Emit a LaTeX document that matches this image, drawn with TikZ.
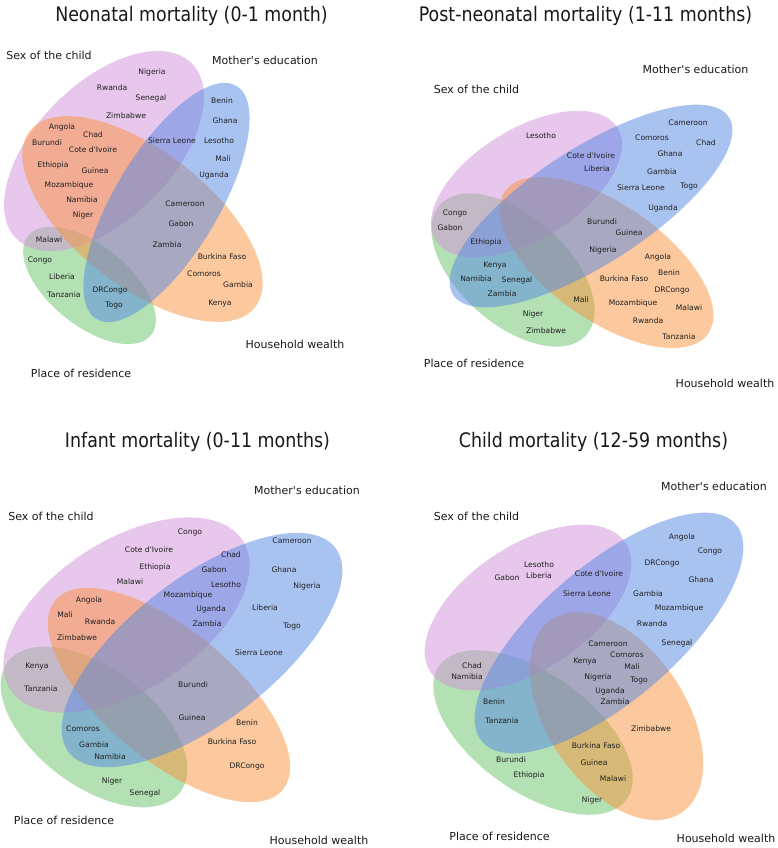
\documentclass[tikz,border=0pt]{standalone}
\usepackage{fontspec}
\setmainfont{DejaVu Sans}
\newfontfamily\titlefont{DejaVu Sans}[FakeStretch=0.87]
\definecolor{vpink}{RGB}{209,145,217}
\definecolor{vblue}{RGB}{85,137,229}
\definecolor{vorange}{RGB}{251,147,61}
\definecolor{vgreen}{RGB}{105,197,105}
\tikzset{
  cty/.style={font=\fontsize{7.6}{9}\selectfont, inner sep=0pt, text height=5.5pt, text depth=1.5pt, text=black!88},
  cat/.style={font=\fontsize{11}{13}\selectfont, inner sep=0pt, text height=8pt, text depth=2.5pt, text=black!90},
  ttl/.style={font=\titlefont\fontsize{20}{24}\selectfont, inner sep=0pt, anchor=base, text=black!90},
  pinkset/.style={fill=vpink, fill opacity=0.5},
  blueset/.style={fill=vblue, fill opacity=0.5},
  orangeset/.style={fill=vorange, fill opacity=0.5},
  greenset/.style={fill=vgreen, fill opacity=0.5}
}
% #1 style, #2 angle, #3 cx, #4 cy, #5 a, #6 b
\newcommand\vennell[6]{\fill[#1, rotate around={#2:(#3,#4)}] (#3,#4) ellipse [x radius=#5pt, y radius=#6pt];}
\newcommand\cty[4]{\node[cty] (#1) at (#2,#3) {#4};}
\newcommand\apos{\textquotesingle}
\begin{document}
\begin{tikzpicture}[x=1pt,y=-1pt]
\useasboundingbox (0,0) rectangle (778,848);
\fill[white] (0,0) rectangle (778,848);

% ---------- Diagram 1: Neonatal ----------
\vennell{greenset}{-39}{89.5}{285.5}{79}{40}
\vennell{pinkset}{45}{104}{151}{124}{68}
\vennell{orangeset}{-38}{142.5}{219}{143}{67.5}
\vennell{blueset}{59}{166.5}{202.5}{136}{52}

\node[ttl] (t1) at (191.5,22) {Neonatal mortality (0-1 month)};
\node[cat] (d1sex) at (49,57) {Sex of the child};
\node[cat] (d1edu) at (265,62) {Mother\apos s education};
\node[cat] (d1wealth) at (295,346) {Household wealth};
\node[cat] (d1res) at (81,375) {Place of residence};

\cty{d1nigeria}{152}{73}{Nigeria}
\cty{d1rwanda}{112}{89}{Rwanda}
\cty{d1senegal}{151}{99}{Senegal}
\cty{d1zimbabwe}{126}{116}{Zimbabwe}
\cty{d1benin}{222}{102}{Benin}
\cty{d1ghana}{225}{122}{Ghana}
\cty{d1lesotho}{219}{141}{Lesotho}
\cty{d1mali}{223}{159}{Mali}
\cty{d1uganda}{214}{175}{Uganda}
\cty{d1sierra}{172}{141}{Sierra Leone}
\cty{d1angola}{62}{128}{Angola}
\cty{d1chad}{93}{136}{Chad}
\cty{d1burundi}{47}{144}{Burundi}
\cty{d1cote}{93}{151}{Cote d\apos Ivoire}
\cty{d1ethiopia}{53}{165}{Ethiopia}
\cty{d1guinea}{95}{171}{Guinea}
\cty{d1mozambique}{69}{185}{Mozambique}
\cty{d1namibia}{82}{200}{Namibia}
\cty{d1niger}{83}{215}{Niger}
\cty{d1cameroon}{185}{204}{Cameroon}
\cty{d1gabon}{181}{224}{Gabon}
\cty{d1zambia}{167}{245}{Zambia}
\cty{d1malawi}{49}{240}{Malawi}
\cty{d1congo}{40}{260}{Congo}
\cty{d1liberia}{62}{277}{Liberia}
\cty{d1tanzania}{64}{295}{Tanzania}
\cty{d1drcongo}{110}{290}{DRCongo}
\cty{d1togo}{114}{305}{Togo}
\cty{d1burkina}{222}{257}{Burkina Faso}
\cty{d1comoros}{204}{274}{Comoros}
\cty{d1gambia}{238}{285}{Gambia}
\cty{d1kenya}{220}{303}{Kenya}

% ---------- Diagram 2: Post-neonatal ----------
\vennell{greenset}{-41.6}{513}{270}{98}{54}
\vennell{pinkset}{31.7}{526.5}{184}{107}{55}
\vennell{orangeset}{-35}{606.5}{262.5}{124}{58}
\vennell{blueset}{32.8}{591}{206}{164}{58}

\node[ttl] (t2) at (585.5,22) {Post-neonatal mortality (1-11 months)};
\node[cat] (d2edu) at (695.5,71) {Mother\apos s education};
\node[cat] (d2sex) at (476.5,91) {Sex of the child};
\node[cat] (d2res) at (474,365) {Place of residence};
\node[cat] (d2wealth) at (725,385) {Household wealth};

\cty{d2lesotho}{541}{137}{Lesotho}
\cty{d2cote}{591}{156}{Cote d\apos Ivoire}
\cty{d2liberia}{597}{169}{Liberia}
\cty{d2cameroon}{688}{123}{Cameroon}
\cty{d2comoros}{652}{138}{Comoros}
\cty{d2chad}{706}{144}{Chad}
\cty{d2ghana}{670}{154}{Ghana}
\cty{d2gambia}{662}{172}{Gambia}
\cty{d2sierra}{641}{188}{Sierra Leone}
\cty{d2togo}{689}{186}{Togo}
\cty{d2uganda}{663}{208}{Uganda}
\cty{d2congo}{455}{213}{Congo}
\cty{d2gabon}{450}{228}{Gabon}
\cty{d2ethiopia}{486}{242}{Ethiopia}
\cty{d2burundi}{602}{222}{Burundi}
\cty{d2guinea}{629}{233}{Guinea}
\cty{d2nigeria}{603}{250}{Nigeria}
\cty{d2kenya}{495}{265}{Kenya}
\cty{d2namibia}{476}{279}{Namibia}
\cty{d2senegal}{517}{280}{Senegal}
\cty{d2zambia}{502}{294}{Zambia}
\cty{d2mali}{581}{300}{Mali}
\cty{d2niger}{533}{314}{Niger}
\cty{d2zimbabwe}{546}{331}{Zimbabwe}
\cty{d2angola}{658}{257}{Angola}
\cty{d2benin}{669}{273}{Benin}
\cty{d2burkina}{624}{279}{Burkina Faso}
\cty{d2drcongo}{672}{290}{DRCongo}
\cty{d2mozambique}{633}{303}{Mozambique}
\cty{d2malawi}{689}{308}{Malawi}
\cty{d2rwanda}{648}{321}{Rwanda}
\cty{d2tanzania}{679}{337}{Tanzania}

% ---------- Diagram 3: Infant ----------
\vennell{greenset}{-37}{94}{727}{108}{59}
\vennell{pinkset}{32.6}{126.5}{615}{138}{75}
\vennell{orangeset}{-39.8}{169}{695}{148}{65}
\vennell{blueset}{37.5}{202}{650}{168}{72}

\node[ttl] (t3) at (197.5,447) {Infant mortality (0-11 months)};
\node[cat] (d3edu) at (307,492) {Mother\apos s education};
\node[cat] (d3sex) at (51,518) {Sex of the child};
\node[cat] (d3res) at (64,822) {Place of residence};
\node[cat] (d3wealth) at (319,842) {Household wealth};

\cty{d3congo}{190}{532}{Congo}
\cty{d3cote}{149}{550}{Cote d\apos Ivoire}
\cty{d3ethiopia}{155}{567}{Ethiopia}
\cty{d3malawi}{130}{582}{Malawi}
\cty{d3chad}{231}{555}{Chad}
\cty{d3gabon}{214}{570}{Gabon}
\cty{d3lesotho}{226}{585}{Lesotho}
\cty{d3mozambique}{188}{595}{Mozambique}
\cty{d3uganda}{211}{609}{Uganda}
\cty{d3zambia}{207}{624}{Zambia}
\cty{d3cameroon}{292}{541}{Cameroon}
\cty{d3ghana}{284}{570}{Ghana}
\cty{d3nigeria}{307}{586}{Nigeria}
\cty{d3liberia}{265}{608}{Liberia}
\cty{d3togo}{292}{626}{Togo}
\cty{d3sierra}{259}{653}{Sierra Leone}
\cty{d3angola}{89}{600}{Angola}
\cty{d3mali}{65}{615}{Mali}
\cty{d3rwanda}{100}{622}{Rwanda}
\cty{d3zimbabwe}{77}{638}{Zimbabwe}
\cty{d3kenya}{37}{666}{Kenya}
\cty{d3tanzania}{41}{689}{Tanzania}
\cty{d3burundi}{193}{685}{Burundi}
\cty{d3guinea}{192}{718}{Guinea}
\cty{d3comoros}{83}{729}{Comoros}
\cty{d3gambia}{94}{745}{Gambia}
\cty{d3namibia}{110}{757}{Namibia}
\cty{d3niger}{112}{781}{Niger}
\cty{d3senegal}{145}{793}{Senegal}
\cty{d3benin}{247}{723}{Benin}
\cty{d3burkina}{232}{742}{Burkina Faso}
\cty{d3drcongo}{247}{766}{DRCongo}

% ---------- Diagram 4: Child ----------
\vennell{greenset}{-35.5}{533}{732.5}{115}{59}
\vennell{pinkset}{33.6}{528}{607.5}{117}{62}
\vennell{orangeset}{-56}{616.5}{716}{116.5}{69}
\vennell{blueset}{40.6}{609}{633}{167}{68}

\node[ttl] (t4) at (593.5,447) {Child mortality (12-59 months)};
\node[cat] (d4edu) at (714,488) {Mother\apos s education};
\node[cat] (d4sex) at (476.5,518) {Sex of the child};
\node[cat] (d4res) at (499.5,838) {Place of residence};
\node[cat] (d4wealth) at (726,840) {Household wealth};

\cty{d4lesotho}{539}{565}{Lesotho}
\cty{d4gabon}{507}{578}{Gabon}
\cty{d4liberia}{539}{576}{Liberia}
\cty{d4cote}{599}{574}{Cote d\apos Ivoire}
\cty{d4sierra}{587}{594}{Sierra Leone}
\cty{d4angola}{682}{537}{Angola}
\cty{d4congo}{710}{551}{Congo}
\cty{d4drcongo}{662}{563}{DRCongo}
\cty{d4ghana}{701}{580}{Ghana}
\cty{d4gambia}{648}{594}{Gambia}
\cty{d4mozambique}{679}{608}{Mozambique}
\cty{d4rwanda}{652}{624}{Rwanda}
\cty{d4senegal}{677}{643}{Senegal}
\cty{d4cameroon}{608}{644}{Cameroon}
\cty{d4comoros}{627}{655}{Comoros}
\cty{d4kenya}{585}{661}{Kenya}
\cty{d4mali}{632}{667}{Mali}
\cty{d4nigeria}{598}{677}{Nigeria}
\cty{d4togo}{639}{680}{Togo}
\cty{d4uganda}{610}{691}{Uganda}
\cty{d4zambia}{615}{702}{Zambia}
\cty{d4chad}{472}{666}{Chad}
\cty{d4namibia}{467}{677}{Namibia}
\cty{d4benin}{494}{702}{Benin}
\cty{d4tanzania}{502}{721}{Tanzania}
\cty{d4zimbabwe}{651}{729}{Zimbabwe}
\cty{d4burkina}{596}{746}{Burkina Faso}
\cty{d4guinea}{594}{763}{Guinea}
\cty{d4malawi}{613}{779}{Malawi}
\cty{d4burundi}{511}{760}{Burundi}
\cty{d4ethiopia}{529}{775}{Ethiopia}
\cty{d4niger}{592}{800}{Niger}
\end{tikzpicture}
\end{document}
